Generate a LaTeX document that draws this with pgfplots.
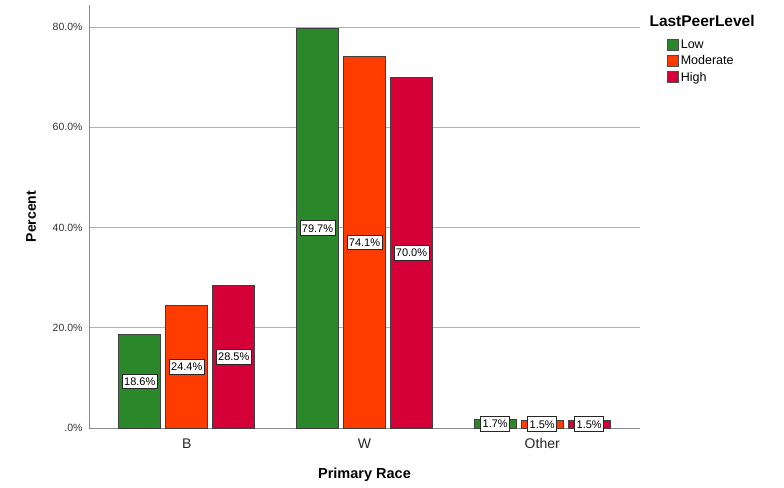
\documentclass[border=0pt]{standalone}
\usepackage{fontspec}
\setmainfont{Liberation Sans}
\usepackage{pgfplots}
\pgfplotsset{compat=1.18}
\definecolor{cLow}{RGB}{42,135,42}
\definecolor{cMod}{RGB}{255,60,0}
\definecolor{cHigh}{RGB}{214,0,56}
\begin{document}
\begin{tikzpicture}[x=1pt,y=1pt]
\path[use as bounding box] (0,0) rectangle (784,487);
\begin{axis}[
  at={(89pt,59pt)}, anchor=south west,
  scale only axis, width=551pt, height=423pt,
  xmin=-0.55, xmax=2.55, ymin=0, ymax=84.4,
  /pgf/number format/assume math mode=true,
  axis x line*=bottom, axis y line*=left,
  axis line style={draw=black!45, line width=0.8pt},
  ybar=5pt, bar width=42pt,
  xtick={0,1,2}, xticklabels={B,W,Other},
  xtick style={draw=none},
  ytick={0,20,40,60,80}, yticklabels={.0\%,20.0\%,40.0\%,60.0\%,80.0\%},
  ytick style={draw=none},
  ymajorgrids, grid style={draw=black!30, line width=0.8pt},
  yticklabel style={font=\fontsize{10.5}{12}\selectfont, text=black!80, xshift=-3pt},
  xticklabel style={font=\fontsize{14}{16}\selectfont, text=black!85, yshift=-3pt},
  ylabel={Percent}, xlabel={Primary Race},
  ylabel style={at={(axis description cs:-0.105,0.5)}, anchor=center, font=\bfseries\fontsize{14}{16}\selectfont},
  xlabel style={at={(axis description cs:0.5,-0.111)}, anchor=center, font=\bfseries\fontsize{14.5}{16}\selectfont},
  visualization depends on={y \as \rawy},
  nodes near coords={\pgfmathprintnumber[fixed,fixed zerofill,precision=1]{\pgfplotspointmeta}\%},
  every node near coord/.append style={anchor=center, shift={(axis direction cs:0,-\rawy/2)},
    fill=white, draw=black!85, line width=0.8pt, inner xsep=2pt, inner ysep=3.5pt, text=black,
    font=\fontsize{11}{12}\selectfont},
  legend style={at={(1.049,0.923)}, anchor=north west, draw=none, fill=none,
    font=\fontsize{12.5}{14}\selectfont, row sep=1.8pt, inner sep=0pt},
  legend cell align=left,
  legend image code/.code={\draw[#1,draw=black!70,line width=0.6pt] (-3pt,-5.5pt) rectangle (8pt,5.5pt);},
  clip=false,
]
\addplot[fill=cLow, draw=black!75, line width=0.8pt] coordinates {(0,18.6) (1,79.7) (2,1.7)};
\addplot[fill=cMod, draw=black!75, line width=0.8pt] coordinates {(0,24.4) (1,74.1) (2,1.5)};
\addplot[fill=cHigh, draw=black!75, line width=0.8pt] coordinates {(0,28.5) (1,70.0) (2,1.5)};
\legend{Low,Moderate,High}
\end{axis}
\node[anchor=base west, font=\bfseries\fontsize{15.5}{17}\selectfont] at (646,460) {LastPeerLevel};
\end{tikzpicture}
\end{document}
